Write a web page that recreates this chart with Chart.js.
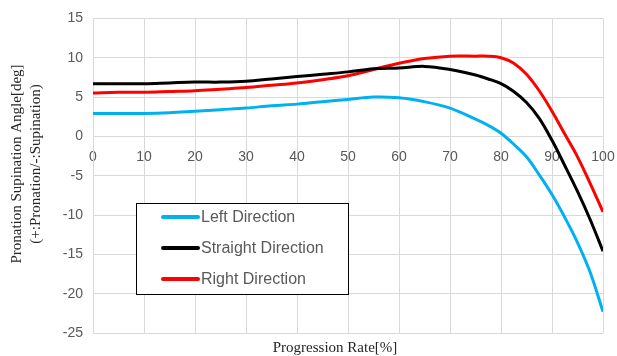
<!DOCTYPE html>
<html>
<head>
<meta charset="utf-8">
<script src="https://cdn.jsdelivr.net/npm/chart.js@4/dist/chart.umd.min.js"></script>
<style>
  html, body { margin: 0; padding: 0; background: #ffffff; }
  #wrap { width: 617px; height: 356px; }
</style>
</head>
<body>
<div id="wrap"><canvas id="chart" width="617" height="356"></canvas></div>
<script>
// Progression rate [%] at which each angle was sampled
const progress = [0, 5, 10, 15, 20, 25, 30, 35, 40, 45, 50, 55, 60, 65, 70, 75, 77.5, 80, 82.5, 85, 87.5, 90, 92.5, 95, 97.5, 100];

// Pronation / supination angle [deg] for each walking direction
const leftDirection = [2.9, 2.9, 2.9, 3.0, 3.2, 3.4, 3.6, 3.9, 4.1, 4.4, 4.7, 5.0, 4.9, 4.4, 3.6, 2.2, 1.4, 0.4, -1.0, -2.6, -4.9, -7.4, -10.3, -13.5, -17.3, -22.3];
const straightDirection = [6.7, 6.7, 6.7, 6.8, 6.9, 6.9, 7.0, 7.3, 7.6, 7.9, 8.2, 8.6, 8.7, 8.9, 8.5, 7.8, 7.3, 6.7, 5.7, 4.3, 2.3, -0.5, -3.7, -7.0, -10.6, -14.6];
const rightDirection = [5.5, 5.6, 5.6, 5.7, 5.8, 6.0, 6.2, 6.5, 6.8, 7.2, 7.7, 8.5, 9.3, 9.9, 10.2, 10.2, 10.2, 10.0, 9.3, 7.9, 5.8, 3.2, 0.3, -2.6, -6.0, -9.6];

const seriesNames = ['Left Direction', 'Straight Direction', 'Right Direction'];
const seriesColors = ['#00b0f0', '#000000', '#ff0000'];

const xTitle = 'Progression Rate[%]';
const yTitle = ['Pronation Supination Angle[deg]', '(+:Pronation/-:Supination)'];

const toPoints = (vals) => progress.map((x, i) => ({ x: x, y: vals[i] }));

const GRID = '#d9d9d9';
const TEXT = '#595959';

// Axis titles and the boxed legend drawn over the plot
const overlay = {
  id: 'overlay',
  afterDraw(chart) {
    const ctx = chart.ctx;
    const area = chart.chartArea;
    ctx.save();

    // x-axis title
    ctx.fillStyle = '#262626';
    ctx.font = '15px "Liberation Serif", "Times New Roman", serif';
    ctx.textAlign = 'center';
    ctx.textBaseline = 'middle';
    ctx.fillText(xTitle, (area.left + area.right) / 2 - 13, 348);

    // y-axis title (two rotated lines)
    ctx.save();
    ctx.translate(0, 164);
    ctx.rotate(-Math.PI / 2);
    ctx.fillText(yTitle[0], 0, 17);
    ctx.fillText(yTitle[1], 0, 36);
    ctx.restore();

    // legend box
    const bx = area.left + 43, by = 203, bw = 212, bh = 91;
    ctx.fillStyle = '#ffffff';
    ctx.fillRect(bx, by, bw, bh);
    ctx.strokeStyle = '#000000';
    ctx.lineWidth = 1;
    ctx.strokeRect(bx + 0.5, by + 0.5, bw, bh);

    ctx.font = '16px "Liberation Sans", Arial, sans-serif';
    ctx.textAlign = 'left';
    chart.data.datasets.forEach((ds, i) => {
      const cy = 217 + i * 31;
      ctx.strokeStyle = ds.borderColor;
      ctx.lineWidth = 4;
      ctx.lineCap = 'round';
      ctx.beginPath();
      ctx.moveTo(bx + 27, cy);
      ctx.lineTo(bx + 62, cy);
      ctx.stroke();
      ctx.fillStyle = TEXT;
      ctx.fillText(ds.label, bx + 65, cy + 1);
    });
    ctx.restore();
  }
};

new Chart(document.getElementById('chart'), {
  type: 'line',
  data: {
    datasets: [
      { label: seriesNames[0], data: toPoints(leftDirection), borderColor: seriesColors[0] },
      { label: seriesNames[1], data: toPoints(straightDirection), borderColor: seriesColors[1] },
      { label: seriesNames[2], data: toPoints(rightDirection), borderColor: seriesColors[2] }
    ].map(d => Object.assign(d, {
      borderWidth: 3,
      pointRadius: 0,
      fill: false,
      tension: 0.35,
      backgroundColor: d.borderColor
    }))
  },
  options: {
    responsive: false,
    animation: false,
    devicePixelRatio: 1,
    layout: { padding: { left: 0, right: 14, top: 17, bottom: 23 } },
    plugins: {
      legend: { display: false },
      tooltip: { enabled: false }
    },
    scales: {
      x: {
        type: 'linear',
        min: 0,
        max: 100,
        position: { y: 0 },
        ticks: {
          stepSize: 10,
          color: TEXT,
          font: { family: '"Liberation Sans", Arial, sans-serif', size: 14 },
          padding: 12,
          maxRotation: 0
        },
        grid: { color: GRID, lineWidth: 1, drawTicks: false },
        border: { color: GRID },
        afterFit(scale) { scale.paddingLeft = 0; scale.paddingRight = 0; }
      },
      y: {
        min: -25,
        max: 15,
        ticks: {
          stepSize: 5,
          color: TEXT,
          font: { family: '"Liberation Sans", Arial, sans-serif', size: 14 },
          padding: 10
        },
        grid: { color: GRID, lineWidth: 1, drawTicks: false },
        border: { color: GRID },
        afterFit(scale) { scale.width = 93; }
      }
    }
  },
  plugins: [overlay]
});
</script>
</body>
</html>
